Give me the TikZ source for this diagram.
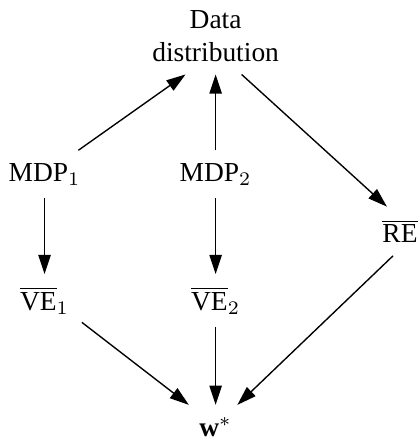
\documentclass[tikz,border=0pt]{standalone}
\usepackage{amsmath}
\usepackage{fontspec}
\setmainfont{Liberation Serif}
\usetikzlibrary{arrows.meta}

\begin{document}
\begin{tikzpicture}[
    lbl/.style={inner sep=4.5pt},
    arr/.style={-{Triangle[length=7pt,width=4.5pt]}, line width=0.5pt}
  ]
  \useasboundingbox (0,0) rectangle (5.338,-5.619);
  % top: where the data comes from
  \node[lbl, align=center] (data) at (2.76,-0.46) {Data\\distribution};
  % middle row
  \node[lbl] (mdp1) at (0.57,-2.23) {MDP$_1$};
  \node[lbl] (mdp2) at (2.76,-2.23) {MDP$_2$};
  \node[lbl] (re) at (5.12,-2.96) {$\overline{\mathrm{RE}}$};
  % value errors
  \node[lbl] (ve1) at (0.57,-3.85) {$\overline{\mathrm{VE}}_1$};
  \node[lbl] (ve2) at (2.76,-3.85) {$\overline{\mathrm{VE}}_2$};
  % bottom
  \node[lbl] (w) at (2.76,-5.47) {$\mathbf{w}^*$};
  % arrows
  \draw[arr] (mdp1) -- (data.232);
  \draw[arr] (mdp2) -- (data);
  \draw[arr] (data.304) -- (re.118);
  \draw[arr] (mdp1) -- (ve1);
  \draw[arr] (mdp2) -- (ve2);
  \draw[arr] (ve1.330) -- (w.140);
  \draw[arr] (ve2) -- (w);
  \draw[arr] (re.254) -- (w.46);
\end{tikzpicture}
\end{document}
